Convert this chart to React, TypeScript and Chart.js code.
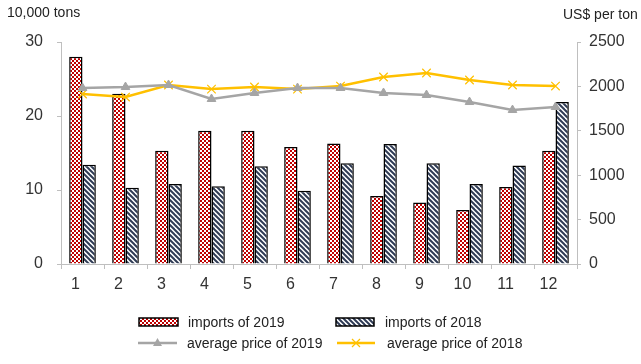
import React, { useEffect, useRef } from "react";
import { Chart, registerables } from "chart.js";

Chart.register(...registerables);

const months = ["1", "2", "3", "4", "5", "6", "7", "8", "9", "10", "11", "12"];
const imports2019 = [28.0, 23.0, 15.3, 18.0, 18.0, 15.8, 16.3, 9.2, 8.3, 7.3, 10.4, 15.3];
const imports2018 = [13.4, 10.3, 10.8, 10.5, 13.2, 9.9, 13.6, 16.2, 13.6, 10.8, 13.3, 21.9];
const price2019 = [1982, 1993, 2016, 1858, 1926, 1982, 1982, 1926, 1903, 1824, 1734, 1768];
const price2018 = [1914, 1880, 2016, 1970, 1993, 1970, 2004, 2106, 2151, 2072, 2016, 2004];
const leftTicks = [0, 10, 20, 30];
const rightTicks = [0, 500, 1000, 1500, 2000, 2500];

const FONT = "'Liberation Sans', Arial, sans-serif";
const GRAY = "#A5A5A5";
const YELLOW = "#FFC000";

function makeChecker(): CanvasPattern | string {
  const c = document.createElement("canvas");
  c.width = 4;
  c.height = 4;
  const g = c.getContext("2d");
  if (!g) return "#c00000";
  g.fillStyle = "#ffffff";
  g.fillRect(0, 0, 4, 4);
  g.fillStyle = "#C00000";
  g.fillRect(0, 0, 2, 2);
  g.fillRect(2, 2, 2, 2);
  return g.createPattern(c, "repeat") as CanvasPattern;
}

function makeStripes(): CanvasPattern | string {
  const c = document.createElement("canvas");
  c.width = 5;
  c.height = 5;
  const g = c.getContext("2d");
  if (!g) return "#2f3f5f";
  g.fillStyle = "#ffffff";
  g.fillRect(0, 0, 5, 5);
  g.strokeStyle = "#2F3B55";
  g.lineWidth = 2;
  for (const off of [-5, 0, 5]) {
    g.beginPath();
    g.moveTo(-1, off - 1);
    g.lineTo(6, off + 6);
    g.stroke();
  }
  return g.createPattern(c, "repeat") as CanvasPattern;
}

export default function App() {
  const ref = useRef<HTMLCanvasElement | null>(null);

  useEffect(() => {
    document.body.style.margin = "0";
    const canvas = ref.current;
    if (!canvas) return;
    const checker = makeChecker();
    const stripes = makeStripes();

    const overlay = {
      id: "overlay",
      afterDraw(chart: any) {
        const ctx = chart.ctx as CanvasRenderingContext2D;
        ctx.save();
        ctx.fillStyle = "#222";
        ctx.font = `14px ${FONT}`;
        ctx.textBaseline = "middle";
        ctx.textAlign = "left";
        ctx.fillText("10,000 tons", 7, 13);
        ctx.fillText("US$ per ton", 563, 15);

        // legend
        const rowA = 322;
        const rowB = 343;
        ctx.lineWidth = 1.5;
        ctx.strokeStyle = "#000";
        ctx.fillStyle = checker as any;
        ctx.fillRect(139, rowA - 4, 39, 8);
        ctx.strokeRect(139, rowA - 4, 39, 8);
        ctx.fillStyle = stripes as any;
        ctx.fillRect(336, rowA - 4, 38, 8);
        ctx.strokeRect(336, rowA - 4, 38, 8);

        // gray line + triangle
        ctx.strokeStyle = GRAY;
        ctx.lineWidth = 2.5;
        ctx.beginPath();
        ctx.moveTo(138, rowB);
        ctx.lineTo(177, rowB);
        ctx.stroke();
        ctx.fillStyle = GRAY;
        ctx.beginPath();
        ctx.moveTo(157.5, rowB - 5);
        ctx.lineTo(162, rowB + 3);
        ctx.lineTo(153, rowB + 3);
        ctx.closePath();
        ctx.fill();

        // yellow line + x
        ctx.strokeStyle = YELLOW;
        ctx.beginPath();
        ctx.moveTo(337, rowB);
        ctx.lineTo(375, rowB);
        ctx.stroke();
        ctx.lineWidth = 1.2;
        ctx.beginPath();
        ctx.moveTo(352, rowB - 4);
        ctx.lineTo(360, rowB + 4);
        ctx.moveTo(360, rowB - 4);
        ctx.lineTo(352, rowB + 4);
        ctx.stroke();

        ctx.fillStyle = "#222";
        ctx.font = `14px ${FONT}`;
        ctx.fillText("imports of 2019", 188, rowA + 1);
        ctx.fillText("imports of 2018", 385, rowA + 1);
        ctx.fillText("average price of 2019", 187, rowB + 1);
        ctx.fillText("average price of 2018", 387, rowB + 1);
        ctx.restore();
      },
    };

    const chart = new Chart(canvas, {
      type: "bar",
      data: {
        labels: months,
        datasets: [
          {
            type: "line",
            label: "average price of 2019",
            data: price2019,
            yAxisID: "y1",
            borderColor: GRAY,
            backgroundColor: GRAY,
            borderWidth: 2.5,
            pointStyle: "triangle",
            pointRadius: 5,
            pointBorderWidth: 1,
            pointBackgroundColor: GRAY,
            pointBorderColor: GRAY,
            order: 0,
          } as any,
          {
            type: "line",
            label: "average price of 2018",
            data: price2018,
            yAxisID: "y1",
            borderColor: YELLOW,
            backgroundColor: YELLOW,
            borderWidth: 2.5,
            pointStyle: "crossRot",
            pointRadius: 6,
            pointBorderWidth: 1.2,
            pointBorderColor: YELLOW,
            order: 0,
          } as any,
          {
            type: "bar",
            label: "imports of 2019",
            data: imports2019,
            yAxisID: "y",
            backgroundColor: checker as any,
            borderColor: "#000",
            borderWidth: 1.5,
            categoryPercentage: 0.62,
            barPercentage: 1.0,
            order: 1,
          },
          {
            type: "bar",
            label: "imports of 2018",
            data: imports2018,
            yAxisID: "y",
            backgroundColor: stripes as any,
            borderColor: "#000",
            borderWidth: 1.5,
            categoryPercentage: 0.62,
            barPercentage: 1.0,
            order: 1,
          },
        ],
      },
      options: {
        animation: false,
        responsive: false,
        maintainAspectRatio: false,
        layout: { padding: { left: 0, right: 0, top: 42, bottom: 70 } },
        plugins: {
          legend: { display: false },
          tooltip: { enabled: false },
          title: { display: false },
        },
        scales: {
          x: {
            offset: true,
            grid: {
              display: true,
              offset: true,
              drawOnChartArea: false,
              drawTicks: true,
              tickLength: 5,
              color: "#BFBFBF",
            },
            border: { display: true, color: "#BFBFBF", width: 1 },
            ticks: {
              color: "#333",
              font: { family: FONT, size: 16 },
              padding: 6,
              labelOffset: -7,
              maxRotation: 0,
              autoSkip: false,
            },
            afterFit(scale: any) {
              scale.height = 30;
            },
          },
          y: {
            position: "left",
            min: 0,
            max: 30,
            afterBuildTicks(scale: any) {
              scale.ticks = leftTicks.map((v) => ({ value: v }));
            },
            grid: {
              display: true,
              drawOnChartArea: false,
              drawTicks: true,
              tickLength: 4,
              color: "#BFBFBF",
            },
            border: { display: true, color: "#BFBFBF", width: 1 },
            ticks: {
              color: "#333",
              font: { family: FONT, size: 16 },
              padding: 14,
              callback: (v: any) => String(v),
            },
            afterFit(scale: any) {
              scale.width = 61;
            },
          },
          y1: {
            position: "right",
            min: 0,
            max: 2500,
            afterBuildTicks(scale: any) {
              scale.ticks = rightTicks.map((v) => ({ value: v }));
            },
            grid: {
              display: true,
              drawOnChartArea: false,
              drawTicks: true,
              tickLength: 4,
              color: "#BFBFBF",
            },
            border: { display: true, color: "#BFBFBF", width: 1 },
            ticks: {
              color: "#333",
              font: { family: FONT, size: 16 },
              padding: 8,
              callback: (v: any) => String(v),
            },
            afterFit(scale: any) {
              scale.width = 64;
            },
          },
        },
      },
      plugins: [overlay],
    });

    return () => {
      chart.destroy();
    };
  }, []);

  return (
    <div style={{ position: "absolute", left: 0, top: 0, width: 641, height: 364, background: "#fff" }}>
      <canvas ref={ref} width={641} height={364} style={{ width: 641, height: 364, display: "block" }} />
    </div>
  );
}
